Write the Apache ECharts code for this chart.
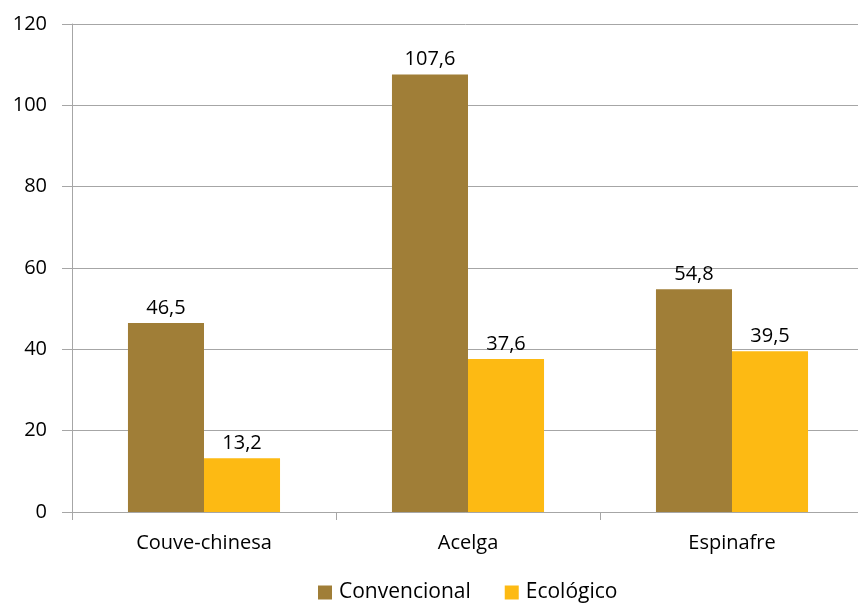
<!DOCTYPE html>
<html><head><meta charset="utf-8">
<script src="https://cdn.jsdelivr.net/npm/echarts@6/dist/echarts.min.js"></script>
<style>html,body{margin:0;padding:0;background:#fff}#c{width:858px;height:603px}</style>
</head><body><div id="c"></div>
<script>
var categories = ['Couve-chinesa', 'Acelga', 'Espinafre'];
var convencional = [46.5, 107.6, 54.8];
var ecologico = [13.2, 37.6, 39.5];
var seriesNames = ['Convencional', 'Ecológico'];
var FONT = '"Open Sans", Lato, sans-serif';
var fmt = function (p) { return String(p.value).replace('.', ','); };
var chart = echarts.init(document.getElementById('c'));
chart.setOption({
  animation: false,
  textStyle: { fontFamily: FONT },
  grid: { left: 72, width: 792, top: 24, bottom: 91, containLabel: false, outerBoundsMode: 'none' },
  legend: {
    top: 577, left: 313, itemWidth: 14, itemHeight: 14, itemGap: 34,
    icon: 'rect',
    textStyle: { fontFamily: FONT, fontSize: 21, color: '#000', padding: [0, 0, 0, 2] },
    data: seriesNames
  },
  xAxis: {
    type: 'category', data: categories,
    axisLine: { lineStyle: { color: '#A6A6A6', width: 1 } },
    axisTick: { show: true, length: 8, lineStyle: { color: '#A6A6A6' } },
    axisLabel: { fontFamily: FONT, fontSize: 20, color: '#000', margin: 21 }
  },
  yAxis: {
    type: 'value', min: 0, max: 120, interval: 20,
    axisLine: { show: true, lineStyle: { color: '#A6A6A6', width: 1 } },
    axisTick: { show: true, length: 10, lineStyle: { color: '#A6A6A6' } },
    splitLine: { lineStyle: { color: '#A6A6A6', width: 1 } },
    axisLabel: { fontFamily: FONT, fontSize: 20, color: '#000', margin: 25 }
  },
  series: [
    { name: seriesNames[0], type: 'bar', data: convencional, barGap: '0%', barCategoryGap: '42.4%',
      itemStyle: { color: '#A07E37' },
      label: { show: true, position: 'top', distance: 5, formatter: fmt, fontFamily: FONT, fontSize: 20, color: '#000' } },
    { name: seriesNames[1], type: 'bar', data: ecologico, barGap: '0%', barCategoryGap: '42.4%',
      itemStyle: { color: '#FDBA13' },
      label: { show: true, position: 'top', distance: 5, formatter: fmt, fontFamily: FONT, fontSize: 20, color: '#000' } }
  ]
});
</script></body></html>
